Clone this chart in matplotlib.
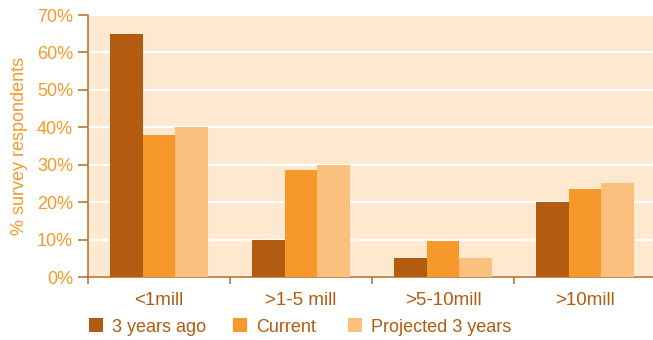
import matplotlib
matplotlib.use("Agg")
import matplotlib.pyplot as plt
from matplotlib.patches import Patch
import numpy as np

plt.rcParams['font.family'] = ['Liberation Sans', 'DejaVu Sans']

categories = ["<1mill", ">1-5 mill", ">5-10mill", ">10mill"]
series_names = ["3 years ago", "Current", "Projected 3 years"]
three_years_ago = [65, 10, 5, 20]
current = [38, 28.6, 9.6, 23.5]
projected = [40, 30, 5, 25]
yticks = [0, 10, 20, 30, 40, 50, 60, 70]

colors = ["#B35B10", "#F7992A", "#FBBF7E"]
bg = "#FEE8D0"
brown = "#B35B10"
orange = "#F7992A"
spine = "#B8783A"

W, H = 653, 340
fig = plt.figure(figsize=(W / 100, H / 100), dpi=100)
ax = fig.add_axes([88 / W, 1 - 277 / H, (656 - 88) / W, (277 - 15) / H])
ax.set_facecolor(bg)

x = np.arange(len(categories))
w = 0.228
for i, (vals, c, name) in enumerate(zip([three_years_ago, current, projected], colors, series_names)):
    ax.bar(x + (i - 1) * w, vals, width=w, color=c, label=name, zorder=3)

ax.set_xlim(-0.5, len(categories) - 0.5)
ax.set_ylim(0, 70)
ax.set_yticks(yticks)
ax.set_yticklabels([f"{v}%" for v in yticks], color=orange, fontsize=13)
ax.yaxis.grid(True, color="white", linewidth=1.6, zorder=1)
ax.set_axisbelow(True)

ax.set_xticks(x)
ax.set_xticklabels(categories, color=brown, fontsize=13.5)
ax.tick_params(axis='x', which='major', length=0, pad=11)
ax.set_xticks(np.arange(-0.5, len(categories), 1), minor=True)
ax.tick_params(axis='x', which='minor', length=5, color=spine, width=1.2)
ax.tick_params(axis='y', length=7.2, color=spine, width=1.2, pad=3.5)

for s in ["top", "right"]:
    ax.spines[s].set_visible(False)
for s in ["left", "bottom"]:
    ax.spines[s].set_color(spine)
    ax.spines[s].set_linewidth(1.2)

ax.set_ylabel("% survey respondents", color=orange, fontsize=13)
ax.yaxis.set_label_coords((28 - 88) / 568, 0.5)

# legend entries placed individually along the bottom
legend_x = [89, 233, 348]
for name, c, lx in zip(series_names, colors, legend_x):
    leg = fig.legend(handles=[Patch(facecolor=c, edgecolor="none")], labels=[name],
                     loc="center left", bbox_to_anchor=(lx / W, 1 - 327 / H),
                     frameon=False, fontsize=13, handlelength=0.78, handleheight=0.78,
                     handletextpad=0.5, borderpad=0, borderaxespad=0)
    for t in leg.get_texts():
        t.set_color(brown)

fig.savefig("out.png", dpi=100, facecolor="white")
